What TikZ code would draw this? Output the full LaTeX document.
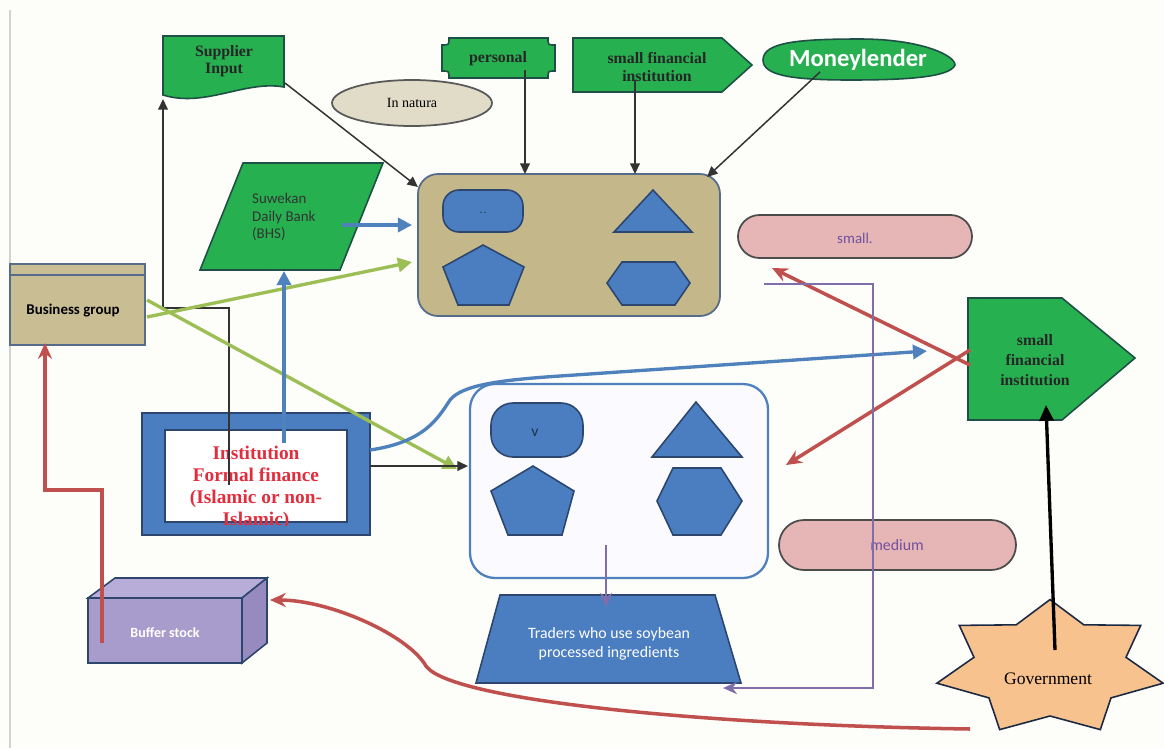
\documentclass[tikz,border=0pt]{standalone}
\usepackage{fontspec}
\setmainfont{Liberation Serif}
\newfontfamily\carl{Carlito}
\usetikzlibrary{arrows.meta,fit,shapes.geometric}
\definecolor{grnF}{RGB}{38,176,80}
\definecolor{grnD}{RGB}{30,80,70}
\definecolor{bluF}{RGB}{74,126,192}
\definecolor{bluD}{RGB}{45,70,110}
\definecolor{tanF}{RGB}{196,183,138}
\definecolor{pinkF}{RGB}{230,182,182}
\definecolor{lilF}{RGB}{168,156,204}
\definecolor{lilT}{RGB}{184,172,216}
\definecolor{lilR}{RGB}{150,138,190}
\definecolor{redL}{RGB}{192,80,77}
\definecolor{grnL}{RGB}{155,190,85}
\definecolor{bluL}{RGB}{79,129,189}
\definecolor{purL}{RGB}{128,110,170}
\definecolor{purT}{RGB}{112,80,160}
\definecolor{orgF}{RGB}{248,194,142}
\definecolor{beigeF}{RGB}{224,220,200}
\definecolor{redT}{RGB}{225,45,60}
\definecolor{bgc}{RGB}{253,253,249}
\begin{document}
\begin{tikzpicture}[x=0.02cm,y=-0.02cm,
  thinarr/.style={draw=black!80, line width=0.85pt, -{Triangle[length=6pt,width=5.5pt]}},
  bluarr/.style={draw=bluL, line width=1.9pt, -{Triangle[length=8pt,width=8pt]}},
  grnarr/.style={draw=grnL, line width=1.9pt, -{Triangle[length=8pt,width=8pt]}},
  redarr/.style={draw=redL, line width=2pt, -{Stealth[length=9pt,width=8pt]}},
  purarr/.style={draw=purL, line width=1.5pt, -{Stealth[length=8pt,width=7pt]}},
  grnshape/.style={fill=grnF, draw=grnD, line width=0.9pt},
  blushape/.style={fill=bluF, draw=bluD, line width=0.9pt},
  fitbox/.style={inner sep=0pt, outer sep=0pt},
  sertxt/.style={font=\bfseries\fontsize{9}{9.6}\selectfont, align=center, text=black!85},
  santxt/.style={font=\carl\fontsize{9}{10.5}\selectfont, align=center},
]
\fill[bgc] (0,0) rectangle (1164,748);
\useasboundingbox (0,0) rectangle (1164,748);
\draw[gray!35, line width=1.6pt] (10,10) -- (10,748);

% ---------- top row ----------
\path[grnshape] (163,36) -- (284,36) -- (284,87) .. controls (245,80) and (205,108) .. (163,95) -- cycle;
\node[sertxt] (supplier) at (224,61) {Supplier\\Input};
\coordinate (supR) at (285,83);
\coordinate (supB) at (163,99);

\node[ellipse, minimum width=3.2cm, minimum height=0.92cm, fill=beigeF, draw=black!65, line width=1pt,
      font=\fontsize{8}{9}\selectfont] (innatura) at (412,103) {In natura};

\path[grnshape] (449,38) -- (548,38) .. controls (548,45) .. (555,45) -- (555,71) .. controls (548,71) .. (548,78)
   -- (449,78) .. controls (449,71) .. (442,71) -- (442,45) .. controls (449,45) .. (449,38) -- cycle;
\node[sertxt] (personal) at (498,59) {personal};
\coordinate (persB) at (525,70);

\path[grnshape] (573,38) -- (722,38) -- (752,65) -- (722,92) -- (573,92) -- cycle;
\node[sertxt, font=\bfseries\fontsize{9}{10}\selectfont] (sfitop) at (657,67) {small financial\\institution};
\coordinate (sfitopB) at (635,80);

\path[grnshape] (763,60) .. controls (763,42) and (800,39) .. (860,39) .. controls (920,39) and (955,55) .. (955,65)
   .. controls (950,78) and (900,80) .. (850,80) .. controls (790,80) and (763,75) .. (763,60) -- cycle;
\node[font=\carl\bfseries\fontsize{14}{16}\selectfont, text=white] (money) at (858,60) {Moneylender};
\coordinate (moneyB) at (820,72);

% ---------- top container ----------
\node[fitbox, fit={(418,174)(720,316)}, fill=tanF, draw=bluD!80, line width=1pt, rounded corners=0.4cm] (topbox) {};
\node[fitbox, fit={(443,190)(523,232)}, blushape, rounded corners=0.32cm] (tstad) {};
\node[font=\fontsize{8}{9}\selectfont, text=bluD] (tdots) at (483,213) {..};
\path[blushape] (614,232) -- (653,190) -- (692,232) -- cycle;
\path[blushape] (483,245) -- (524,267) -- (509,305) -- (458,305) -- (443,267) -- cycle;
\path[blushape] (607,283) -- (622,262) -- (675,262) -- (690,283) -- (675,305) -- (622,305) -- cycle;
\coordinate (topTL) at (418,187);
\coordinate (topPers) at (525,174);
\coordinate (topSfi) at (635,174);
\coordinate (topTR) at (707,177);
\coordinate (topL1) at (412,225);
\coordinate (topL2) at (412,262);
\coordinate (topR) at (764,284);

% ---------- Suwekan ----------
\path[grnshape] (243,163) -- (383,163) -- (340,270) -- (200,270) -- cycle;
\node[santxt, align=left, anchor=west, text=black!80, font=\carl\fontsize{8.5}{9.8}\selectfont] (suwekan) at (246,217) {Suwekan\\Daily Bank\\(BHS)};
\coordinate (suwR) at (342,225);
\coordinate (suwB) at (284,271);

% ---------- small. ----------
\node[fitbox, fit={(738,215)(972,258)}, fill=pinkF, draw=black!70, line width=1pt, rounded corners=0.43cm] (smallS) {};
\node[font=\carl\fontsize{8.5}{10}\selectfont, text=purT] (smallT) at (855,238) {small.};
\coordinate (smallA) at (772,268);

% ---------- Business group ----------
\node[fitbox, fit={(10,264)(145,345)}, fill=tanF!92, draw=bluD!80, line width=1pt] (bizg) {};
\draw[bluD!80, line width=1pt] (10,275) -- (145,275);
\node[font=\carl\bfseries\fontsize{8.5}{10}\selectfont] (bizT) at (73,311) {Business group};
\coordinate (bizR1) at (147,300);
\coordinate (bizR2) at (147,317);
\coordinate (bizB) at (45,343);

% ---------- right small financial institution ----------
\path[grnshape] (968,298) -- (1062,298) -- (1135,358) -- (1062,420) -- (968,420) -- cycle;
\node[sertxt, font=\bfseries\fontsize{9}{11.3}\selectfont] (sfiR) at (1035,360) {small\\financial\\institution};
\coordinate (sfiL) at (927,351);
\coordinate (sfiL1) at (970,365);
\coordinate (sfiL2) at (970,350);
\coordinate (sfiB) at (1046,405);

% ---------- Institution formal finance ----------
\node[fitbox, fit={(142,413)(370,535)}, fill=bluF, draw=bluD, line width=1pt] (instO) {};
\node[fitbox, fit={(165,430)(347,522)}, fill=white, draw=bluD, line width=1pt] (instI) {};
\begin{scope}
\clip (142,413) rectangle (370,525);
\node[font=\bfseries\fontsize{11}{12.5}\selectfont, text=redT, align=center] (instT) at (256,488) {Institution\\Formal finance\\(Islamic or non-\\Islamic)};
\end{scope}
\coordinate (instTop) at (284,443);
\coordinate (instLine) at (229,485);
\coordinate (instR1) at (370,450);
\coordinate (instR2) at (370,466);

% ---------- lower container ----------
\node[fitbox, fit={(470,384)(768,578)}, fill=white!98!blue, draw=bluL, line width=1.3pt, rounded corners=0.5cm] (lowbox) {};
\node[fitbox, fit={(491,403)(583,457)}, blushape, rounded corners=0.44cm] (lstad) {};
\node[font=\carl\fontsize{9}{10}\selectfont, text=bluD!70!black] (lv) at (535,433) {v};
\path[blushape] (652,457) -- (696,402) -- (742,457) -- cycle;
\path[blushape] (533,466) -- (574,491) -- (562,535) -- (508,535) -- (491,491) -- cycle;
\path[blushape] (657,501) -- (673,468) -- (721,468) -- (742,501) -- (721,535) -- (673,535) -- cycle;
\coordinate (lowL) at (468,466);
\coordinate (lowL2) at (457,469);
\coordinate (lowA) at (786,465);
\coordinate (lowB) at (606,545);

% ---------- medium ----------
\node[fitbox, fit={(779,520)(1016,570)}, fill=pinkF, draw=black!70, line width=1pt, rounded corners=0.5cm] (medS) {};
\node[font=\carl\fontsize{9}{10}\selectfont, text=purT] (medT) at (897,545) {medium};

% ---------- Traders ----------
\path[blushape] (500,595) -- (715,595) -- (741,683) -- (476,683) -- cycle;
\node[santxt, text=white] (traders) at (609,644) {Traders who use soybean\\processed ingredients};
\coordinate (tradT) at (606,607);
\coordinate (tradR) at (723,688);

% ---------- Buffer stock ----------
\path[fill=lilT, draw=bluD, line width=0.9pt] (88,598) -- (115,578) -- (267,578) -- (242,598) -- cycle;
\path[fill=lilR, draw=bluD, line width=0.9pt] (242,598) -- (267,578) -- (267,643) -- (242,663) -- cycle;
\path[fill=lilF, draw=bluD, line width=0.9pt] (88,598) rectangle (242,663);
\node[font=\carl\bfseries\fontsize{8}{9}\selectfont, text=white] (buffer) at (165,633) {Buffer stock};
\coordinate (bufR) at (270,600);
\coordinate (bufIn) at (102,643);

% ---------- Government ----------
\path[fill=orgF, draw=bluD!60!black, line width=0.9pt]
  (1050,599.6) -- (1083.8,624.8) -- (1140.7,625.4) -- (1126.0,657.3) -- (1163.1,683.2) -- (1111.0,697.9)
  -- (1100.3,729.6) -- (1050,716) -- (999.7,729.6) -- (989.0,697.9) -- (936.9,683.2) -- (974.0,657.3)
  -- (959.3,625.4) -- (1016.2,624.8) -- cycle;
\node[font=\fontsize{10}{12}\selectfont] (gov) at (1048,679) {Government};
\coordinate (govT) at (1055,650);
\coordinate (govR) at (970,729);

% ---------- connectors ----------
\draw[thinarr] (instLine) -- (229,308) -- (163,308) -- (supB);
\draw[thinarr] (supR) -- (topTL);
\draw[thinarr] (persB) -- (topPers);
\draw[thinarr] (sfitopB) -- (topSfi);
\draw[thinarr] (moneyB) -- (topTR);
\draw[bluarr] (suwR) -- (topL1);
\draw[grnarr] (bizR2) -- (topL2);
\draw[grnarr] (bizR1) -- (lowL2);
\draw[bluarr] (instTop) -- (suwB);
\draw[thinarr] (instR2) -- (lowL);
\draw[bluarr] (instR1) .. controls (425,442) and (438,418) .. (450,400) .. controls (462,385) and (500,380) .. (560,376) -- (sfiL);
\draw[redarr] (sfiL1) -- (smallA);
\draw[redarr] (sfiL2) -- (lowA);
\draw[purarr] (topR) -- (873,284) -- (873,688) -- (tradR);
\draw[purarr] (lowB) -- (tradT);
\draw[draw=black, line width=1.9pt, -{Triangle[length=9pt,width=8pt]}] (govT) -- (sfiB);
\draw[redarr] (govR) .. controls (700,725) and (450,700) .. (426,666) .. controls (408,635) and (330,600) .. (bufR);
\draw[redarr] (bufIn) -- (102,490) -- (45,490) -- (bizB);
\end{tikzpicture}
\end{document}
